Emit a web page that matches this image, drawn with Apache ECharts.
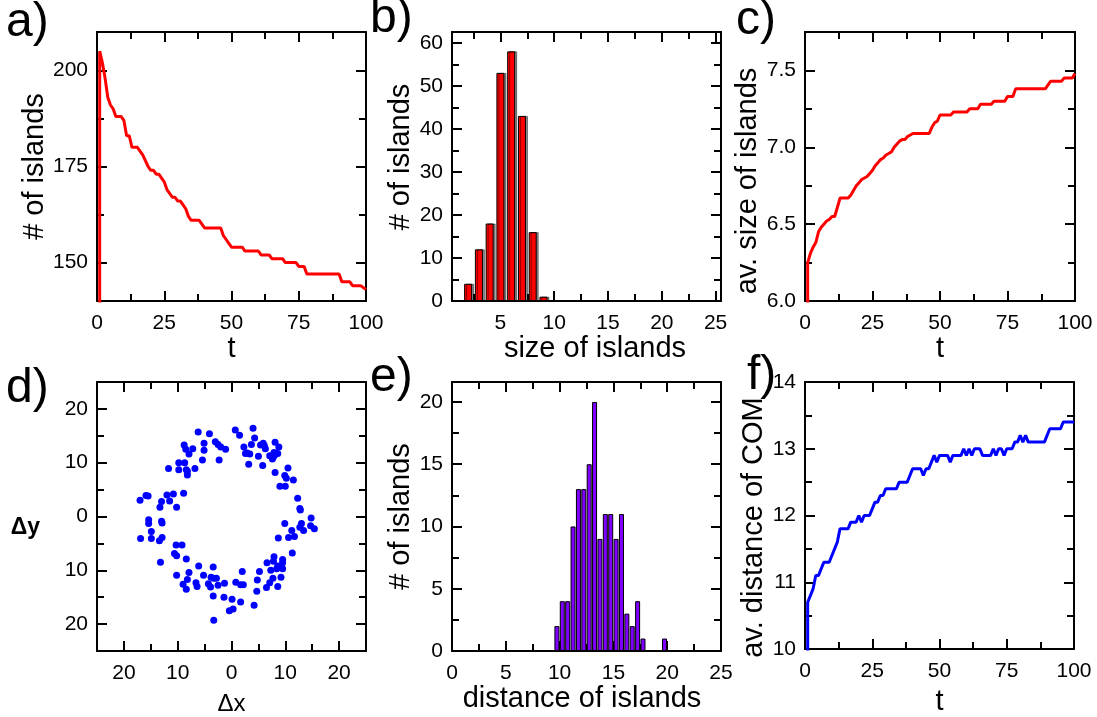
<!DOCTYPE html>
<html>
<head>
<meta charset="utf-8">
<script src="https://cdn.jsdelivr.net/npm/echarts@6/dist/echarts.min.js"></script>
<style>
  html, body { margin: 0; padding: 0; background: #fff; }
  #chart { width: 1097px; height: 717px; }
</style>
</head>
<body>
<div id="chart"></div>
<script>
// ---------- DATA ----------
// a) number of islands vs t
const aT   = [1, 1, 2, 3, 4, 5, 6, 7, 9, 10, 11, 12, 13, 15, 17, 19, 20, 21, 22, 23, 24, 25, 26, 27, 28, 29, 30, 31, 32, 33, 34, 35, 38, 39, 40, 46, 47, 48, 49, 50, 54, 55, 60, 61, 64, 65, 69, 70, 74, 75, 77, 78, 90, 91, 94, 95, 98, 100];
const aIsl = [130, 205, 202, 198, 193, 191, 190, 188, 188, 187, 183, 183, 180, 180, 178, 175, 174, 174, 173, 173, 172, 171, 169, 168, 167, 167, 166, 166, 165, 164, 162, 161, 161, 160, 159, 159, 157, 156, 155, 154, 154, 153, 153, 152, 152, 151, 151, 150, 150, 149, 149, 147, 147, 145, 145, 144, 144, 143];

// b) histogram of island sizes
const bSize  = [2, 3, 4, 5, 6, 7, 8, 9];
const bCount = [4, 12, 18, 53, 58, 43, 16, 1];

// c) average island size vs t
const cT    = [1, 1, 2, 3, 4, 5, 6, 7, 8, 9, 10, 11, 12, 13, 16, 17, 18, 19, 20, 21, 22, 23, 24, 25, 26, 27, 28, 29, 30, 31, 32, 33, 34, 35, 36, 37, 38, 40, 46, 47, 48, 49, 50, 54, 55, 60, 61, 64, 65, 69, 70, 74, 75, 77, 78, 89, 91, 95, 96, 99, 100];
const cSize = [5.9, 6.25, 6.31, 6.35, 6.38, 6.45, 6.48, 6.5, 6.52, 6.53, 6.55, 6.55, 6.61, 6.67, 6.67, 6.69, 6.72, 6.75, 6.77, 6.79, 6.8, 6.81, 6.83, 6.85, 6.88, 6.9, 6.92, 6.93, 6.95, 6.96, 6.97, 7.0, 7.02, 7.04, 7.05, 7.05, 7.07, 7.09, 7.09, 7.13, 7.16, 7.17, 7.21, 7.21, 7.23, 7.23, 7.25, 7.25, 7.28, 7.28, 7.3, 7.3, 7.33, 7.33, 7.38, 7.38, 7.43, 7.43, 7.45, 7.45, 7.48];

// d) island positions relative to centre of mass
const dDx = [-6.2, -4.1, -8.8, -7.2, -5.1, -8.5, -7.9, -5.1, -3.0, -2.5, -2.0, -1.1, -2.3, -5.4, -9.8, -8.7, -9.8, -8.4, -8.2, -8.2, -6.8, -11.7, -15.9, -15.5, -17.0, -12.0, -10.8, -8.9, -13.0, -11.5, -13.3, -10.2,
  0.7, 1.5, 4.0, 4.3, 3.7, 2.3, 2.6, 2.9, 3.4, 5.4, 5.9, 6.1, 6.3, 8.1, 8.8, 5.0, 3.2, 5.8, 7.1, 7.6, 7.9, 8.1, 8.6, 7.8, 8.1, 10.5, 9.9, 10.2, 11.5, 9.0, 10.0, 12.3, 12.7, 12.8, 14.8,
  -15.4, -15.4, -13.0, -12.9, -14.9, -16.9, -14.9, -13.4, -12.9, -10.3, -9.2, -10.6, -10.2, -13.2, -8.4, -10.2, -7.9, -8.2, -9.0, -8.4, -6.1, -5.2, -6.6, -6.4, -4.3, -3.9, -3.4, -3.8, -3.3, -2.8, -2.5, -1.3, -3.4, -1.4, 0.1, -0.4, -3.3,
  9.9, 13.0, 12.7, 13.4, 14.7, 15.4, 11.2, 11.7, 10.6, 8.7, 11.3, 7.9, 7.8, 6.6, 9.5, 9.5, 8.6, 8.4, 9.5, 7.3, 5.2, 2.0, 7.7, 4.8, 7.1, 8.6, 9.2, 6.5, 4.7, 0.8, 1.7, 2.2, 0.3, 1.7, 4.2];
const dDy = [15.7, 15.4, 13.3, 12.6, 13.6, 12.5, 11.6, 12.3, 13.9, 13.4, 12.9, 12.5, 10.5, 10.5, 10.0, 10.0, 8.7, 8.7, 8.4, 7.7, 8.9, 8.9, 3.9, 3.8, 3.0, 4.0, 4.2, 4.3, 2.8, 2.9, 1.7, 1.7,
  16.1, 15.1, 16.4, 14.6, 13.4, 12.9, 11.7, 11.8, 11.6, 13.3, 13.6, 13.2, 12.6, 13.8, 12.9, 11.2, 9.7, 9.5, 11.3, 10.7, 11.9, 11.5, 11.7, 11.1, 8.2, 9.0, 7.6, 7.1, 6.8, 5.6, 5.6, 3.4, 1.5, 1.2, -0.3,
  -0.6, -1.3, -0.9, -1.2, -2.8, -4.1, -4.1, -4.5, -3.9, -5.3, -5.3, -6.9, -7.3, -8.5, -7.9, -10.9, -10.4, -11.7, -12.6, -13.5, -9.2, -10.9, -12.3, -13.0, -12.5, -13.1, -9.4, -11.3, -11.5, -11.5, -12.8, -12.4, -14.8, -15.0, -15.4, -17.5, -19.3,
  -1.3, -1.3, -2.0, -2.6, -1.7, -2.3, -2.6, -3.7, -3.9, -4.0, -6.8, -7.5, -8.3, -8.6, -8.0, -8.6, -9.2, -9.7, -9.7, -10.0, -10.2, -10.2, -11.5, -11.8, -12.3, -13.0, -11.3, -13.2, -13.9, -12.2, -12.7, -12.7, -17.2, -15.9, -16.5];

// e) histogram of island distances (bin centres)
const eDist  = [9.75, 10.25, 10.75, 11.25, 11.75, 12.25, 12.75, 13.25, 13.75, 14.25, 14.75, 15.25, 15.75, 16.25, 16.75, 17.25, 17.75, 19.75];
const eCount = [2, 4, 4, 10, 13, 13, 15, 20, 9, 11, 11, 9, 11, 3, 2, 4, 1, 1];

// f) average distance of COM vs t
const fT    = [1, 1, 2, 3, 4, 5, 6, 7, 9, 10, 11, 12, 13, 16, 17, 19, 20, 21, 22, 24, 25, 26, 27, 28, 29, 30, 34, 35, 38, 39, 40, 43, 44, 45, 46, 47, 48, 49, 50, 53, 54, 55, 58, 59, 60, 61, 62, 63, 65, 66, 69, 70, 71, 72, 73, 74, 75, 77, 78, 79, 80, 81, 82, 83, 89, 90, 91, 95, 96, 100];
const fDist = [9.9, 10.7, 10.8, 10.9, 11.1, 11.1, 11.2, 11.3, 11.3, 11.4, 11.5, 11.6, 11.8, 11.8, 11.9, 11.9, 12.0, 11.9, 12.0, 12.0, 12.1, 12.2, 12.2, 12.3, 12.3, 12.4, 12.4, 12.5, 12.5, 12.6, 12.7, 12.7, 12.6, 12.7, 12.7, 12.8, 12.9, 12.8, 12.9, 12.9, 12.8, 12.9, 12.9, 13.0, 12.9, 13.0, 12.9, 13.0, 13.0, 12.9, 12.9, 13.0, 12.9, 13.0, 13.0, 12.9, 13.0, 13.0, 13.1, 13.1, 13.2, 13.1, 13.2, 13.1, 13.1, 13.2, 13.3, 13.3, 13.4, 13.4];

// tick values (labelled majors and unlabelled minors)
const tMajor = [0, 25, 50, 75, 100];
const tMinor = [12.5, 37.5, 62.5, 87.5];
const aYMajor = [150, 175, 200];
const aYMinor = [162.5, 187.5];
const bXMajor = [5, 10, 15, 20, 25];
const bXMinor = [2.5, 7.5, 12.5, 17.5, 22.5];
const bYMajor = [0, 10, 20, 30, 40, 50, 60];
const bYMinor = [5, 15, 25, 35, 45, 55];
const cYMajor = [6.0, 6.5, 7.0, 7.5];
const cYMinor = [6.25, 6.75, 7.25];
const dMajor = [-20, -10, 0, 10, 20];
const dMinor = [-15, -5, 5, 15];
const eXMajor = [0, 5, 10, 15, 20, 25];
const eXMinor = [2.5, 7.5, 12.5, 17.5, 22.5];
const eYMajor = [0, 5, 10, 15, 20];
const eYMinor = [2.5, 7.5, 12.5, 17.5];
const fYMajor = [10, 11, 12, 13, 14];
const fYMinor = [10.5, 11.5, 12.5, 13.5];

// ---------- LAYOUT / STYLE ----------
const FONT = '"Liberation Sans", Arial, sans-serif';
const grids = [
  { left: 97,  top: 32,  width: 269, height: 269 },
  { left: 452, top: 32,  width: 269, height: 269 },
  { left: 805, top: 32,  width: 270, height: 269 },
  { left: 97,  top: 382, width: 269, height: 269 },
  { left: 452, top: 382, width: 269, height: 269 },
  { left: 805, top: 382, width: 269, height: 268 }
];

const xAxes = [], yAxes = [];
function mkAxes(gi, dim, p) {
  const list = dim === 'x' ? xAxes : yAxes;
  const main = dim === 'x' ? 'bottom' : 'left';
  const opp = dim === 'x' ? 'top' : 'right';
  const base = { gridIndex: gi, type: 'value', min: p.min, max: p.max, splitLine: { show: false } };
  const mainIdx = list.length;
  list.push(Object.assign({}, base, {
    position: main,
    axisLine: { show: true, onZero: false, lineStyle: { color: '#000', width: 2 } },
    axisTick: { show: true, inside: true, length: 10, customValues: p.major, lineStyle: { color: '#000', width: 2 } },
    axisLabel: { show: true, customValues: p.major, formatter: p.fmt, margin: p.margin || 10, fontSize: 21, color: '#000', fontFamily: FONT },
    name: p.name || '', nameLocation: 'middle', nameGap: p.nameGap || 30, nameRotate: p.nameRotate,
    nameTextStyle: Object.assign({ fontSize: 29, color: '#000', fontFamily: FONT }, p.nameStyle || {})
  }));
  list.push(Object.assign({}, base, {
    position: main,
    axisLine: { show: false, onZero: false },
    axisTick: { show: true, inside: true, length: 7, customValues: p.minor, lineStyle: { color: '#000', width: 2 } },
    axisLabel: { show: false }
  }));
  list.push(Object.assign({}, base, {
    position: opp,
    axisLine: { show: true, onZero: false, lineStyle: { color: '#000', width: 2 } },
    axisTick: { show: true, inside: true, length: 10, customValues: p.major, lineStyle: { color: '#000', width: 2 } },
    axisLabel: { show: false }
  }));
  list.push(Object.assign({}, base, {
    position: opp,
    axisLine: { show: false, onZero: false },
    axisTick: { show: true, inside: true, length: 7, customValues: p.minor, lineStyle: { color: '#000', width: 2 } },
    axisLabel: { show: false }
  }));
  return mainIdx;
}

const fmtInt = v => String(Math.round(v));
const fmt1 = v => v.toFixed(1);
const fmtAbs = v => String(Math.abs(Math.round(v)));

const ax = [];
// a
ax.push({
  x: mkAxes(0, 'x', { min: 0, max: 100, major: tMajor, minor: tMinor, fmt: fmtInt, name: 't', nameGap: 30, margin: 12 }),
  y: mkAxes(0, 'y', { min: 140, max: 210, major: aYMajor, minor: aYMinor, fmt: fmtInt, name: '# of islands', nameGap: 46, margin: 9 })
});
// b
ax.push({
  x: mkAxes(1, 'x', { min: 0.5, max: 25.5, major: bXMajor, minor: bXMinor, fmt: fmtInt, name: 'size of islands', nameGap: 27, margin: 12, nameStyle: { padding: [0, 0, 0, 17] } }),
  y: mkAxes(1, 'y', { min: 0, max: 62.5, major: bYMajor, minor: bYMinor, fmt: fmtInt, name: '# of islands', nameGap: 30, margin: 9, nameStyle: { padding: [0, 0, 0, 19] } })
});
// c
ax.push({
  x: mkAxes(2, 'x', { min: 0, max: 100, major: tMajor, minor: tMinor, fmt: fmtInt, name: 't', nameGap: 30, margin: 12 }),
  y: mkAxes(2, 'y', { min: 6, max: 7.75, major: cYMajor, minor: cYMinor, fmt: fmt1, name: 'av. size of islands', nameGap: 37, margin: 9, nameStyle: { padding: [0, 29, 0, 0] } })
});
// d
ax.push({
  x: mkAxes(3, 'x', { min: -25, max: 25, major: dMajor, minor: dMinor, fmt: fmtAbs, name: 'Δx', nameGap: 41, margin: 12, nameStyle: { fontSize: 24 } }),
  y: mkAxes(3, 'y', { min: -25, max: 25, major: dMajor, minor: dMinor, fmt: fmtAbs, name: 'Δy', nameGap: 57, nameRotate: 0, margin: 9, nameStyle: { fontSize: 23, fontWeight: 'bold', verticalAlign: 'top' } })
});
// e
ax.push({
  x: mkAxes(4, 'x', { min: 0, max: 25, major: eXMajor, minor: eXMinor, fmt: fmtInt, name: 'distance of islands', nameGap: 27, margin: 12, nameStyle: { padding: [0, 9, 0, 0] } }),
  y: mkAxes(4, 'y', { min: 0, max: 21.6, major: eYMajor, minor: eYMinor, fmt: fmtInt, name: '# of islands', nameGap: 34, margin: 9 })
});
// f
ax.push({
  x: mkAxes(5, 'x', { min: 0, max: 100, major: tMajor, minor: tMinor, fmt: fmtInt, name: 't', nameGap: 38, margin: 12 }),
  y: mkAxes(5, 'y', { min: 10, max: 14, major: fYMajor, minor: fYMinor, fmt: fmtInt, name: 'av. distance of COM', nameGap: 37, margin: 9, nameStyle: { padding: [0, 24, 0, 0] } })
});

const zip = (a, b) => a.map((v, i) => [v, b[i]]);

const series = [
  { type: 'line', xAxisIndex: ax[0].x, yAxisIndex: ax[0].y, data: zip(aT, aIsl), showSymbol: false, symbol: 'none',
    lineStyle: { color: '#ff0000', width: 3 }, clip: true },
  { type: 'bar', xAxisIndex: ax[1].x, yAxisIndex: ax[1].y, data: zip(bSize, bCount), barWidth: 8,
    itemStyle: { color: '#ff0000', borderColor: '#000', borderWidth: 1, shadowColor: 'rgba(0,0,0,0.45)', shadowOffsetX: 2, shadowOffsetY: 0, shadowBlur: 0 } },
  { type: 'line', xAxisIndex: ax[2].x, yAxisIndex: ax[2].y, data: zip(cT, cSize), showSymbol: false, symbol: 'none',
    lineStyle: { color: '#ff0000', width: 3 }, clip: true },
  { type: 'scatter', xAxisIndex: ax[3].x, yAxisIndex: ax[3].y, data: zip(dDx, dDy), symbolSize: 7,
    itemStyle: { color: '#0000ff', opacity: 1 } },
  { type: 'bar', xAxisIndex: ax[4].x, yAxisIndex: ax[4].y, data: zip(eDist, eCount), barWidth: 5,
    itemStyle: { color: '#7f00ff', borderColor: '#000', borderWidth: 1 } },
  { type: 'line', xAxisIndex: ax[5].x, yAxisIndex: ax[5].y, data: zip(fT, fDist), showSymbol: false, symbol: 'none',
    lineStyle: { color: '#0000ff', width: 3 }, clip: true }
];

const panelLabels = [
  { t: 'a)', x: 6,   y: 47 },
  { t: 'b)', x: 370, y: 43 },
  { t: 'c)', x: 736, y: 45 },
  { t: 'd)', x: 6,   y: 413 },
  { t: 'e)', x: 370, y: 402 },
  { t: 'f)', x: 747, y: 400 }
];

const option = {
  animation: false,
  backgroundColor: '#fff',
  grid: grids.map(g => Object.assign({ show: false, containLabel: false }, g)),
  xAxis: xAxes,
  yAxis: yAxes,
  series: series,
  graphic: panelLabels.map(p => ({
    type: 'text', x: p.x, y: p.y, z: 100,
    style: { text: p.t, fontSize: 48, fontFamily: FONT, fill: '#000', verticalAlign: 'bottom', align: 'left' }
  }))
};

const chart = echarts.init(document.getElementById('chart'), null, { renderer: 'canvas' });
chart.setOption(option);
</script>
</body>
</html>
